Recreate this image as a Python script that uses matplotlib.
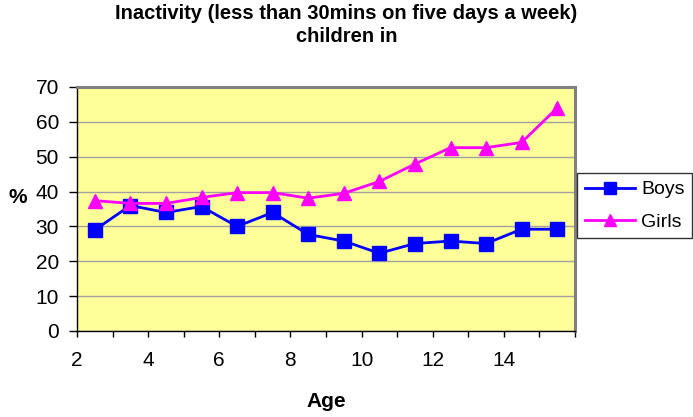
import matplotlib.pyplot as plt
import numpy as np
from matplotlib.ticker import MultipleLocator

plt.rcParams['font.family'] = ['Liberation Sans', 'DejaVu Sans']

# data (points sit between the age ticks)
ages = np.arange(2, 16) + 0.5
boys = [29, 36, 34, 35.7, 30, 34, 27.7, 25.8, 22.3, 25.1, 25.8, 25.1, 29.2, 29.2]
girls = [37.4, 36.6, 36.6, 38.3, 39.7, 39.7, 38.1, 39.5, 42.9, 47.9, 52.6, 52.6, 54.1, 64]
x_labels = [2, 4, 6, 8, 10, 12, 14]

fig = plt.figure(figsize=(6.93, 4.17), dpi=100)
ax = fig.add_axes([77 / 693, 86 / 417, 498 / 693, 244 / 417])
ax.set_facecolor('#FFFF99')

ax.plot(ages, boys, '-s', color='#0000FF', lw=2, ms=10, label='Boys')
ax.plot(ages, girls, '-^', color='#FF00FF', lw=2, ms=10, label='Girls')

ax.set_xlim(2, 16)
ax.set_ylim(0, 70)
ax.yaxis.set_major_locator(MultipleLocator(10))
ax.xaxis.set_major_locator(MultipleLocator(1))
ax.xaxis.set_major_formatter(plt.FuncFormatter(lambda v, p: str(int(v)) if int(v) in x_labels else ''))
ax.grid(axis='y', color='#A0A0A0', lw=1)
ax.set_axisbelow(True)
ax.tick_params(direction='out', width=1, labelsize=15, colors='black')
ax.tick_params(axis='y', length=6, pad=7)
ax.tick_params(axis='x', length=4.5, pad=10)

for s in ['left', 'bottom']:
    ax.spines[s].set_color('black')
    ax.spines[s].set_linewidth(1)
for s in ['top', 'right']:
    ax.spines[s].set_color('#808080')
    ax.spines[s].set_linewidth(2.2)

ax.set_xlabel('Age', fontsize=15, fontweight='bold', labelpad=16)
fig.text(18 / 693, 1 - 198 / 417, '%', fontsize=15, fontweight='bold', ha='center', va='center')

fig.suptitle('Inactivity (less than 30mins on five days a week)\nchildren in',
             fontsize=14.5, fontweight='bold', y=0.99, linespacing=1.25)

leg = fig.legend(loc='upper left', bbox_to_anchor=(577 / 693, 1 - 173 / 417),
                 fontsize=14, frameon=True, fancybox=False, handlelength=2.6,
                 handletextpad=0.3, borderpad=0.4, labelspacing=0.75,
                 borderaxespad=0, markerscale=0.9)
leg.get_frame().set_edgecolor('black')
leg.get_frame().set_linewidth(1)

fig.savefig('out.png', dpi=100)
